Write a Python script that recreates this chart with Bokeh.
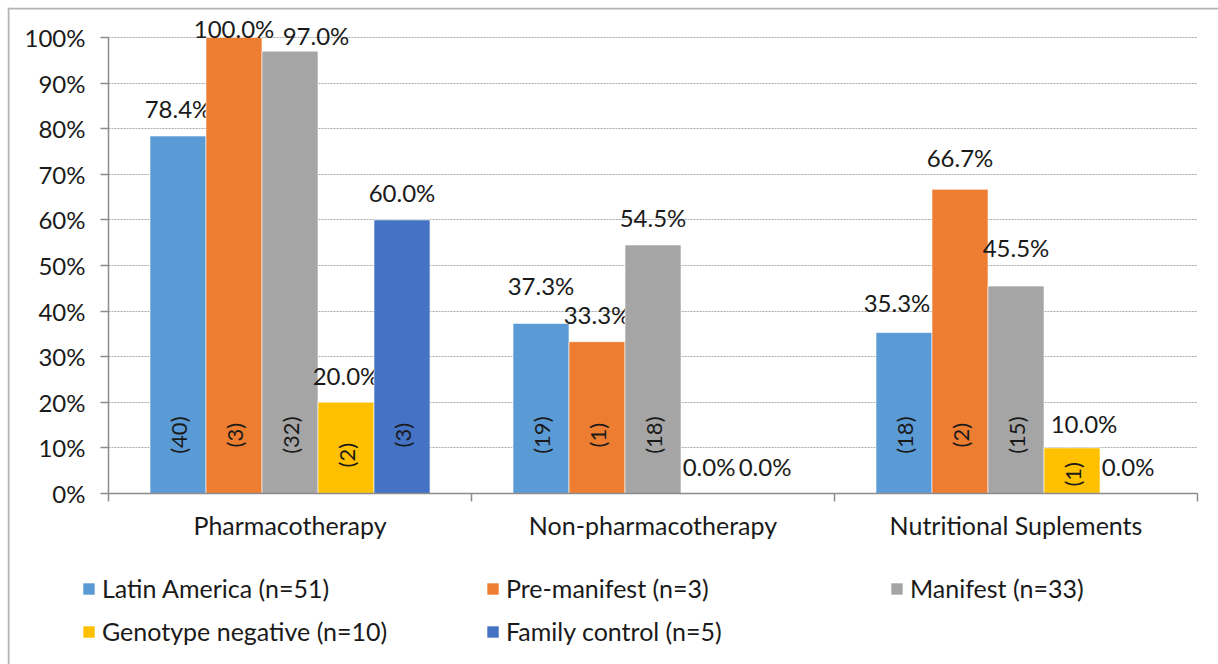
from math import pi
from bokeh.plotting import figure
from bokeh.models import ColumnDataSource, FixedTicker, Legend, LegendItem, Range1d, Span
from bokeh.core.properties import value
from bokeh.embed import file_html
from bokeh.resources import INLINE

categories = ["Pharmacotherapy", "Non-pharmacotherapy", "Nutritional Suplements"]
series_names = ["Latin America (n=51)", "Pre-manifest (n=3)", "Manifest (n=33)",
                "Genotype negative (n=10)", "Family control (n=5)"]
latin_america = [78.4, 37.3, 35.3]
pre_manifest = [100.0, 33.3, 66.7]
manifest = [97.0, 54.5, 45.5]
genotype_negative = [20.0, 0.0, 10.0]
family_control = [60.0, 0.0, 0.0]
latin_america_n = [40, 19, 18]
pre_manifest_n = [3, 1, 2]
manifest_n = [32, 18, 15]
genotype_negative_n = [2, 0, 1]
family_control_n = [3, 0, 0]
y_ticks = [0, 10, 20, 30, 40, 50, 60, 70, 80, 90, 100]
y_tick_labels = ["0%", "10%", "20%", "30%", "40%", "50%", "60%", "70%", "80%", "90%", "100%"]

series_values = [latin_america, pre_manifest, manifest, genotype_negative, family_control]
series_counts = [latin_america_n, pre_manifest_n, manifest_n, genotype_negative_n, family_control_n]
colors = ["#5B9BD5", "#ED7D31", "#A5A5A5", "#FFC000", "#4472C4"]
# (dx, dy) px nudges of some value labels, as the original moved them to avoid overlaps
label_nudge = {(2, 0): (26, 0), (0, 1): (0, 11), (0, 2): (-7, 3.5), (1, 2): (0, 5),
               (2, 2): (0, 11.5), (3, 2): (12, -3)}

# layout (page px); the frame starts at the chart border (BL, BT) and runs to the page edge
W, H = 1218, 664
BL, BT = 7, 7
PL, PR, PT, PB = 108, 1197, 37, 493
xu = (PR - PL) / 3.0
yu = (PB - PT) / 100.0
fl, fr = PL - BL, W - PR          # data-area offsets inside the frame
ft, fb = PT - BT, H - PB

FONT = "Lato"
TXT = "#1a1a1a"
AX = "#8c8c8c"
bar_w = 56 / xu

x0, x1 = -fl / xu, 3 + fr / xu
y0, y1 = -fb / yu, 100 + ft / yu
p = figure(width=W, height=H, output_backend="svg", toolbar_location=None,
           x_range=Range1d(x0, x1), y_range=Range1d(y0, y1),
           min_border_left=BL, min_border_right=0, min_border_top=BT, min_border_bottom=0)
p.outline_line_color = None
p.background_fill_color = "white"
p.border_fill_color = "white"

# chart border (left and top edges only are within the window)
p.add_layout(Span(location=x0 + 1 / xu, dimension="height", line_color="#b4b4b4", line_width=2))
p.add_layout(Span(location=y1 - 1 / yu, dimension="width", line_color="#b4b4b4", line_width=2))

# axes
p.xaxis.fixed_location = 0
p.yaxis.fixed_location = 0
p.xaxis.bounds = (0, 3)
p.yaxis.bounds = (0, 100)
p.xaxis.ticker = FixedTicker(ticks=[0.5, 1.5, 2.5], minor_ticks=[0, 1, 2, 3])
p.xaxis.major_label_overrides = {0.5: categories[0], 1.5: categories[1], 2.5: categories[2]}
p.xaxis.major_tick_out = 0
p.xaxis.major_tick_in = 0
p.xaxis.minor_tick_out = 8
p.xaxis.minor_tick_in = 0
p.xaxis.major_label_standoff = 8
p.xaxis.major_label_text_font_size = "25px"
p.yaxis.ticker = FixedTicker(ticks=y_ticks)
p.yaxis.major_label_overrides = {t: l for t, l in zip(y_ticks, y_tick_labels)}
p.yaxis.major_tick_out = 8
p.yaxis.major_tick_in = 0
p.yaxis.minor_tick_out = 0
p.yaxis.minor_tick_in = 0
p.yaxis.major_label_standoff = 15
p.yaxis.major_label_text_font_size = "24px"
for ax in (p.xaxis, p.yaxis):
    ax.axis_line_color = AX
    ax.axis_line_width = 1.5
    ax.major_tick_line_color = AX
    ax.minor_tick_line_color = AX
    ax.major_tick_line_width = 1.5
    ax.minor_tick_line_width = 1.5
    ax.major_label_text_font = FONT
    ax.major_label_text_color = TXT

p.xgrid.grid_line_color = None
p.ygrid.ticker = FixedTicker(ticks=y_ticks[1:])
p.ygrid.cross_bounds = (0, 3)
p.ygrid.grid_line_color = "#a8a8a8"
p.ygrid.grid_line_dash = "2 1"
p.ygrid.grid_line_width = 1

items = []
for i, (name, vals, cnts, col) in enumerate(zip(series_names, series_values, series_counts, colors)):
    xs = [c + 0.5 + (i - 2) * bar_w for c in range(len(categories))]
    src = ColumnDataSource(dict(x=xs, top=vals))
    r = p.vbar(x="x", top="top", width=bar_w, source=src, fill_color=col,
               line_color="white", line_alpha=0.6, line_width=1)
    items.append(LegendItem(label=name, renderers=[r]))

    xo, yo = [], []
    for c, v in enumerate(vals):
        dx, dy = label_nudge.get((i, c), (0, 0))
        xo.append(dx)
        yo.append(-(min(27.0, 9.0 + (100.0 - v) * 2.33) + dy))
    lsrc = ColumnDataSource(dict(x=xs, y=vals, t=[f"{v:.1f}%" for v in vals], xo=xo, yo=yo))
    p.text(x="x", y="y", text="t", x_offset="xo", y_offset="yo", source=lsrc, text_align="center",
           text_baseline="middle", text_font=value(FONT), text_font_size="24px", text_color=TXT)

    cx, cy, ct = [], [], []
    for c, (v, n) in enumerate(zip(vals, cnts)):
        if n > 0:
            cx.append(xs[c])
            cy.append(min(12.8, v * 0.42))
            ct.append(f"({n})")
    csrc = ColumnDataSource(dict(x=cx, y=cy, t=ct))
    p.text(x="x", y="y", text="t", source=csrc, angle=pi / 2, text_align="center",
           text_baseline="middle", text_font=value(FONT), text_font_size="22px", text_color=TXT)

legend = Legend(items=items, orientation="horizontal", ncols=3, location=(81 - BL, H - 652.5),
                glyph_width=15, glyph_height=15, label_standoff=6, label_width=383, label_height=43,
                spacing=0, padding=0, margin=0, border_line_color=None, background_fill_alpha=0,
                label_text_font=FONT, label_text_font_size="25px", label_text_color=TXT)
p.add_layout(legend, "center")

open("out.html", "w").write(file_html(p, INLINE))
